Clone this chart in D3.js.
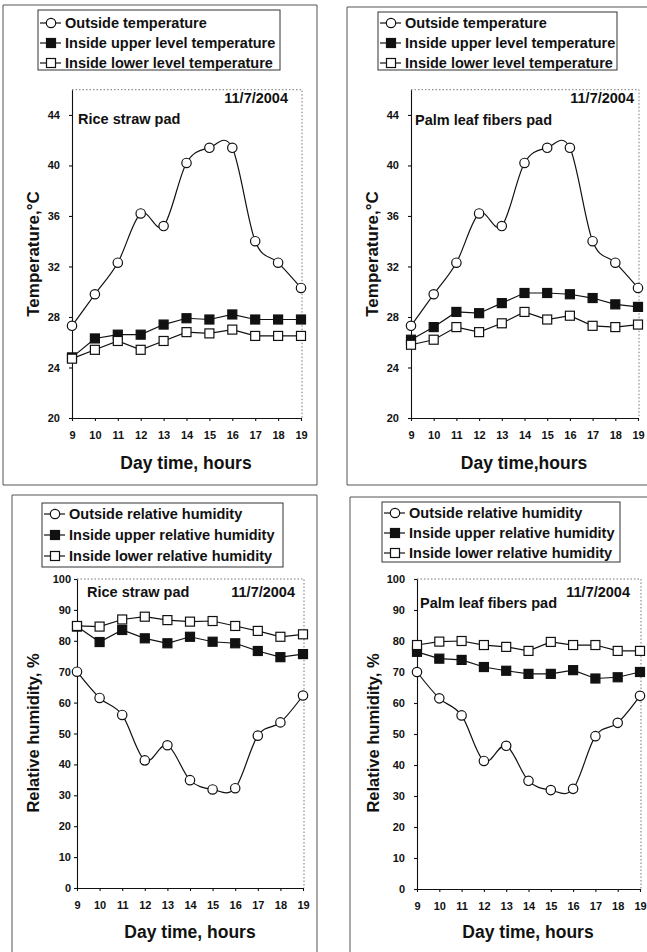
<!DOCTYPE html>
<html>
<head>
<meta charset="utf-8">
<script src="https://cdn.jsdelivr.net/npm/d3@7"></script>
<style>
  body { margin: 0; background: #fff; }
  text { font-family: "Liberation Sans", Arial, sans-serif; font-weight: bold; fill: #111; }
</style>
</head>
<body>
<div id="chart-area"></div>
<script>
const hours = [9, 10, 11, 12, 13, 14, 15, 16, 17, 18, 19]

// temperature, °C
const tempOutside = [27.3, 29.8, 32.3, 36.2, 35.2, 40.2, 41.4, 41.4, 34.0, 32.3, 30.3]
const tempUpperRice = [24.8, 26.3, 26.6, 26.6, 27.4, 27.9, 27.8, 28.2, 27.8, 27.8, 27.8]
const tempLowerRice = [24.7, 25.4, 26.1, 25.4, 26.1, 26.8, 26.7, 27.0, 26.5, 26.5, 26.5]
const tempUpperPalm = [26.2, 27.2, 28.4, 28.3, 29.1, 29.9, 29.9, 29.8, 29.5, 29.0, 28.8]
const tempLowerPalm = [25.8, 26.2, 27.2, 26.8, 27.5, 28.4, 27.8, 28.1, 27.3, 27.2, 27.4]

// relative humidity, %
const rhOutside = [70.0, 61.5, 56.0, 41.3, 46.2, 34.9, 31.9, 32.3, 49.3, 53.6, 62.3]
const rhUpperRice = [84.6, 79.6, 83.5, 80.8, 79.2, 81.3, 79.7, 79.2, 76.7, 74.7, 75.7]
const rhLowerRice = [84.8, 84.6, 86.9, 87.8, 86.7, 86.2, 86.4, 84.8, 83.2, 81.3, 82.1]
const rhUpperPalm = [76.5, 74.3, 73.9, 71.6, 70.4, 69.4, 69.4, 70.6, 67.9, 68.3, 70.0]
const rhLowerPalm = [78.7, 79.8, 80.0, 78.7, 78.1, 76.8, 79.7, 78.7, 78.7, 76.8, 76.8]

const tempTicks = [20, 24, 28, 32, 36, 40, 44]
const rhTicks = [0, 10, 20, 30, 40, 50, 60, 70, 80, 90, 100]

const tempLegend = ["Outside temperature", "Inside upper level temperature", "Inside lower level temperature"]
const rhLegend = ["Outside relative humidity", "Inside upper relative humidity", "Inside lower relative humidity"]

const svg = d3.select("#chart-area").append("svg")
  .attr("width", 647)
  .attr("height", 952)

svg.append("rect").attr("width", 647).attr("height", 952).attr("fill", "#fff")

// marker kinds per series: outside, upper, lower
const markers = ["circle", "filled", "open"]

function drawMarker(sel, kind) {
  if (kind === "circle") {
    sel.append("circle").attr("r", 4.7)
      .attr("fill", "#fff").attr("stroke", "#111").attr("stroke-width", 1.2)
  } else {
    sel.append("rect").attr("x", -4.5).attr("y", -4.5).attr("width", 9).attr("height", 9)
      .attr("fill", kind === "filled" ? "#111" : "#fff").attr("stroke", "#111").attr("stroke-width", 1.2)
  }
}

function drawPanel(p) {
  // outer frame
  svg.append("path")
    .attr("d", p.frame)
    .attr("fill", "none").attr("stroke", "#555").attr("stroke-width", 1)

  // legend
  const lg = svg.append("g").attr("transform", `translate(${p.legend.x}, ${p.legend.y})`)
  lg.append("rect")
    .attr("width", p.legend.w).attr("height", p.legend.h)
    .attr("fill", "#fff").attr("stroke", "#333").attr("stroke-width", 1)
  p.legendLabels.forEach((label, i) => {
    const row = lg.append("g").attr("transform", `translate(0, ${p.legend.rowY[i]})`)
    row.append("line").attr("x1", 2).attr("x2", 23).attr("stroke", "#111").attr("stroke-width", 1.2)
    drawMarker(row.append("g").attr("transform", "translate(13, 0)"), markers[i])
    row.append("text").attr("x", 27).attr("dy", "0.36em")
      .attr("font-size", "14.5px").text(label)
  })

  const x = d3.scaleLinear().domain([9, 19]).range(p.xRange)
  const y = d3.scaleLinear().domain(p.yDomain).range(p.yRange)
  const top = y(p.yDomain[1])

  // dotted plot-area border (top and right)
  svg.append("path")
    .attr("d", `M${p.xRange[0]},${top}H${p.xRange[1] + 1}V${p.yRange[0]}`)
    .attr("fill", "none").attr("stroke", "#777").attr("stroke-width", 1)
    .attr("stroke-dasharray", "1.5,2")

  const yAxis = svg.append("g")
    .attr("transform", `translate(${p.xRange[0]}, 0)`)
    .call(d3.axisLeft(y).tickValues(p.yTicks).tickSize(3).tickPadding(p.yPad).tickSizeOuter(0))
  const xAxis = svg.append("g")
    .attr("transform", `translate(0, ${p.yRange[0]})`)
    .call(d3.axisBottom(x).tickValues(hours).tickSize(3).tickPadding(10).tickSizeOuter(0))
  ;[xAxis, yAxis].forEach(a => {
    a.attr("font-family", null).attr("font-size", null)
    a.selectAll("text").attr("font-size", "11px").attr("fill", "#111")
    a.selectAll("path, line").attr("stroke", "#111").attr("stroke-width", 1.1)
  })

  // series
  const line = d3.line().x((d, i) => x(hours[i])).y(d => y(d))
  p.series.forEach((vals, i) => {
    svg.append("path")
      .datum(vals)
      .attr("d", line.curve(i === 0 ? d3.curveCardinal.tension(0) : d3.curveLinear))
      .attr("fill", "none").attr("stroke", "#111").attr("stroke-width", 1.2)
  })
  p.series.forEach((vals, i) => {
    svg.append("g").selectAll("g")
      .data(vals)
      .enter().append("g")
        .attr("transform", (d, j) => `translate(${x(hours[j])}, ${y(d)})`)
        .each(function () { drawMarker(d3.select(this), markers[i]) })
  })

  // annotations
  svg.append("text").attr("x", p.pad.x).attr("y", p.pad.y)
    .attr("font-size", "14.5px").text(p.pad.text)
  svg.append("text").attr("x", p.date.x).attr("y", p.date.y)
    .attr("text-anchor", "end").attr("font-size", "14.5px").text("11/7/2004")

  // axis titles
  svg.append("text")
    .attr("x", p.xTitle.x).attr("y", p.xTitle.y)
    .attr("text-anchor", "middle").attr("font-size", "17.5px")
    .text(p.xTitle.text)
  svg.append("text")
    .attr("transform", `translate(${p.yTitle.x}, ${p.yTitle.y}) rotate(-90)`)
    .attr("text-anchor", "middle").attr("font-size", p.yTitle.size)
    .text(p.yTitle.text)
}

drawPanel({
  frame: "M3,485V5H317V485Z",
  legend: { x: 38, y: 10, w: 242, h: 60, rowY: [13, 33, 53] },
  legendLabels: tempLegend,
  xRange: [72, 301], yDomain: [20, 46], yRange: [418, 89.7], yTicks: tempTicks, yPad: 9,
  series: [tempOutside, tempUpperRice, tempLowerRice],
  pad: { x: 78, y: 124, text: "Rice straw pad" },
  date: { x: 288, y: 103 },
  xTitle: { x: 186, y: 469, text: "Day time, hours" },
  yTitle: { x: 39, y: 254, text: "Temperature,°C", size: "17px" }
})

drawPanel({
  frame: "M660,485H347V7H660",
  legend: { x: 378, y: 12, w: 239, h: 58, rowY: [11, 31, 51] },
  legendLabels: tempLegend,
  xRange: [411, 638], yDomain: [20, 46], yRange: [418, 89.7], yTicks: tempTicks, yPad: 9,
  series: [tempOutside, tempUpperPalm, tempLowerPalm],
  pad: { x: 415, y: 125, text: "Palm leaf fibers pad" },
  date: { x: 634, y: 103 },
  xTitle: { x: 524, y: 469, text: "Day time,hours" },
  yTitle: { x: 378, y: 254, text: "Temperature,°C", size: "17px" }
})

drawPanel({
  frame: "M12,960V495H317V960",
  legend: { x: 42, y: 503, w: 241, h: 64, rowY: [11, 32, 53] },
  legendLabels: rhLegend,
  xRange: [77, 303], yDomain: [0, 100], yRange: [888, 579], yTicks: rhTicks, yPad: 3,
  series: [rhOutside, rhUpperRice, rhLowerRice],
  pad: { x: 87, y: 597, text: "Rice straw pad" },
  date: { x: 295, y: 597 },
  xTitle: { x: 190, y: 938, text: "Day time, hours" },
  yTitle: { x: 39, y: 733, text: "Relative humidity, %", size: "16.5px" }
})

drawPanel({
  frame: "M660,497H350V960",
  legend: { x: 382, y: 502, w: 238, h: 60, rowY: [11, 31, 51] },
  legendLabels: rhLegend,
  xRange: [417, 640], yDomain: [0, 100], yRange: [889, 579], yTicks: rhTicks, yPad: 9,
  series: [rhOutside, rhUpperPalm, rhLowerPalm],
  pad: { x: 420, y: 608, text: "Palm leaf fibers pad" },
  date: { x: 630, y: 597 },
  xTitle: { x: 528, y: 938, text: "Day time, hours" },
  yTitle: { x: 379, y: 733, text: "Relative humidity, %", size: "16.5px" }
})
</script>
</body>
</html>
